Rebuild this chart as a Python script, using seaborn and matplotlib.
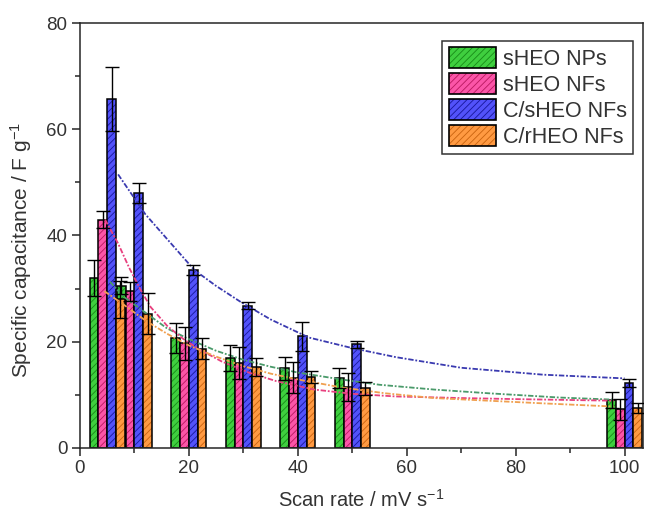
import numpy as np
import pandas as pd
import seaborn as sns
import matplotlib
matplotlib.use('Agg')
import matplotlib.pyplot as plt
from matplotlib.patches import Patch

# datos
scan_rates = [5, 10, 20, 30, 40, 50, 100]
series = ['sHEO NPs', 'sHEO NFs', 'C/sHEO NFs', 'C/rHEO NFs']

sheo_nps = [32.0, 30.5, 20.7, 16.9, 15.0, 13.2, 9.0]
sheo_nps_err = [3.4, 1.6, 2.8, 2.5, 2.2, 1.9, 1.5]
sheo_nfs = [43.0, 29.5, 19.7, 16.0, 13.2, 11.5, 7.3]
sheo_nfs_err = [1.6, 1.8, 3.1, 3.0, 2.9, 2.7, 2.0]
c_sheo_nfs = [65.7, 48.0, 33.5, 26.8, 21.0, 19.5, 12.2]
c_sheo_nfs_err = [6.1, 1.9, 1.0, 0.6, 2.7, 0.6, 0.7]
c_rheo_nfs = [28.0, 25.3, 18.7, 15.3, 13.3, 11.2, 7.5]
c_rheo_nfs_err = [3.5, 3.8, 2.0, 1.7, 1.1, 1.2, 0.9]

# curvas de ajuste
fit_nps_x = [5.5, 8, 12, 16, 20, 25, 30, 35, 40, 48, 55, 65, 75, 88, 98]
fit_nps_y = [31.3, 28.5, 25.5, 22.5, 20.5, 18.3, 16.6, 15.3, 14.2, 12.9, 11.9, 11.0, 10.3, 9.5, 9.1]
fit_nfs_x = [4.6, 7, 9, 11, 13, 16, 19, 22, 26, 31, 36, 43, 50, 58, 70, 80, 98]
fit_nfs_y = [43.0, 38.5, 34.0, 30.0, 26.5, 23.0, 20.5, 18.5, 16.3, 14.2, 12.6, 11.0, 10.2, 9.7, 9.4, 9.2, 8.9]
fit_csheo_x = [7, 10, 12, 15, 18, 21, 25, 29.5, 35, 42, 50, 58, 70, 85, 100]
fit_csheo_y = [51.5, 47.0, 44.0, 40.5, 37.0, 33.5, 30.5, 27.5, 24.2, 20.8, 18.8, 17.1, 15.1, 13.8, 13.1]
fit_crheo_x = [4.5, 8, 12, 16, 20, 25, 30, 35, 40, 48, 56, 65, 75, 85, 98]
fit_crheo_y = [29.5, 27.0, 24.0, 21.5, 19.3, 17.2, 15.4, 14.0, 12.9, 11.4, 10.3, 9.4, 8.9, 8.4, 7.8]

colores = ['#3fcf3f', '#fb55a8', '#5252fa', '#ff9a42']
colores_hatch = ['#178a17', '#b8185e', '#16169a', '#c8620e']
colores_fit = ['#4a9a6a', '#e8407e', '#3a3ab0', '#f0a050']

valores = [sheo_nps, sheo_nfs, c_sheo_nfs, c_rheo_nfs]
errores = [sheo_nps_err, sheo_nfs_err, c_sheo_nfs_err, c_rheo_nfs_err]
fits = [(fit_nps_x, fit_nps_y), (fit_nfs_x, fit_nfs_y),
        (fit_csheo_x, fit_csheo_y), (fit_crheo_x, fit_crheo_y)]

filas = []
for s, vals in zip(series, valores):
    for x, v in zip(scan_rates, vals):
        filas.append({'scan': x, 'serie': s, 'cap': v})
df = pd.DataFrame(filas)

sns.set_style('ticks')
plt.rcParams['font.family'] = ['Liberation Sans', 'DejaVu Sans']
plt.rcParams['mathtext.fontset'] = 'custom'
plt.rcParams['mathtext.rm'] = 'Liberation Sans'
plt.rcParams['mathtext.default'] = 'regular'
plt.rcParams['hatch.linewidth'] = 0.6

fig = plt.figure(figsize=(6.47, 5.17), dpi=100)
ax = fig.add_axes([0.1236, 0.1335, 0.8704, 0.822])

sns.barplot(data=df, x='scan', y='cap', hue='serie', hue_order=series,
            native_scale=True, width=1.28, palette=colores, saturation=1,
            edgecolor='black', linewidth=1.1, errorbar=None, legend=False, ax=ax)

# hatch y barras de error
contenedores = list(ax.containers)
for i, cont in enumerate(contenedores):
    xs = []
    for p in cont.patches:
        p.set_hatch('/////')
        p._hatch_color = matplotlib.colors.to_rgba(colores_hatch[i])
        xs.append(p.get_x() + p.get_width() / 2)
    ax.errorbar(xs, valores[i], yerr=errores[i], fmt='none', ecolor='black',
                elinewidth=1.0, capsize=5, capthick=1.0, zorder=4)

for i, (fx, fy) in enumerate(fits):
    sns.lineplot(x=fx, y=fy, ax=ax, color=colores_fit[i], linewidth=1.3,
                 linestyle=(0, (3, 1, 1, 1)), sort=False, zorder=3)

ax.set_xlim(0, 103.4)
ax.set_ylim(0, 80)
ax.set_xticks([0, 20, 40, 60, 80, 100])
ax.set_xticks([10, 30, 50, 70, 90], minor=True)
ax.set_yticks([0, 20, 40, 60, 80])
ax.set_yticks([10, 30, 50, 70], minor=True)
ax.tick_params(which='major', direction='out', length=6, width=1.1, pad=3,
               labelsize=13.5, labelcolor='#333333')
ax.tick_params(which='minor', direction='out', length=3.5, width=1.1)
for sp in ax.spines.values():
    sp.set_linewidth(1.1)
    sp.set_visible(True)

ax.set_xlabel('Scan rate / mV s$^{-1}$', fontsize=14.5, color='#333333', labelpad=8)
ax.set_ylabel('Specific capacitance / F g$^{-1}$', fontsize=15, color='#333333')
ax.yaxis.set_label_coords(-0.082, 0.466)

handles = []
for i, s in enumerate(series):
    h = Patch(facecolor=colores[i], edgecolor='black', hatch='/////', linewidth=1.2, label=s)
    h._hatch_color = matplotlib.colors.to_rgba(colores_hatch[i])
    handles.append(h)
leg = ax.legend(handles=handles, loc='upper right', bbox_to_anchor=(0.982, 0.958),
                fontsize=15.5, frameon=True, fancybox=False, edgecolor='black',
                handlelength=2.2, handleheight=1.1, labelspacing=0.15,
                handletextpad=0.3, borderpad=0.3, borderaxespad=0)
leg.get_frame().set_linewidth(1.1)
for t in leg.get_texts():
    t.set_color('#333333')

plt.savefig('out.png', dpi=100)
